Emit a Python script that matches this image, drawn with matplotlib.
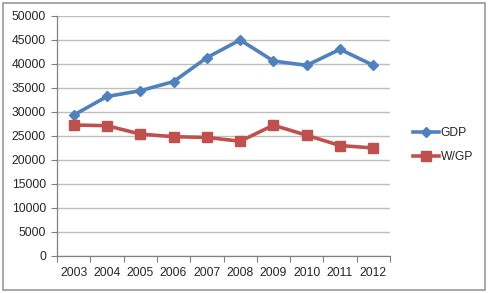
import numpy as np
import matplotlib
matplotlib.use('Agg')
import matplotlib.pyplot as plt
from matplotlib.patches import Rectangle

years = ['2003', '2004', '2005', '2006', '2007', '2008', '2009', '2010', '2011', '2012']
gdp = [29300, 33200, 34400, 36300, 41300, 45000, 40600, 39700, 43050, 39700]
wgp = [27250, 27100, 25350, 24800, 24650, 23850, 27200, 25100, 22950, 22450]

plt.rcParams['font.family'] = ['Liberation Sans', 'DejaVu Sans']

fig = plt.figure(figsize=(4.88, 2.93), dpi=100)
ax = fig.add_axes([57/488, 1 - 255.5/293, (390 - 57)/488, (255.5 - 16)/293])

x = np.arange(len(years))
l1, = ax.plot(x, gdp, color='#4F81BD', lw=2.6, marker='D', ms=5.5, label='GDP')
l2, = ax.plot(x, wgp, color='#C0504D', lw=2.6, marker='s', ms=7, label='W/GP')

ax.set_xlim(-0.5, len(years) - 0.5)
ax.set_ylim(0, 50000)
ax.set_yticks(np.arange(0, 50001, 5000))
ax.set_xticks(np.arange(-0.5, len(years), 1))
ax.set_xticklabels([])
ax.set_xticks(x, minor=True)
ax.set_xticklabels(years, minor=True)
ax.tick_params(axis='x', which='major', length=4, color='#808080', direction='out')
ax.tick_params(axis='x', which='minor', length=0, pad=8, labelsize=8.7, labelcolor='#262626')
ax.tick_params(axis='y', length=4, color='#808080', labelsize=8.7, labelcolor='#262626', pad=4)
ax.grid(axis='y', color='#BEBEBE', lw=1)
ax.set_axisbelow(True)
for s in ['top', 'right']:
    ax.spines[s].set_visible(False)
for s in ['left', 'bottom']:
    ax.spines[s].set_color('#808080')
    ax.spines[s].set_linewidth(0.9)

fig.legend(handles=[l1, l2], loc='center left', bbox_to_anchor=(402/488, 1 - 145/293),
           frameon=False, fontsize=8.7, handlelength=2.2, handletextpad=0.1,
           labelspacing=1.0, labelcolor='#262626')

fig.patches.append(Rectangle((3/488, 3/293), 482/488, 287/293, transform=fig.transFigure,
                             fill=False, edgecolor='#9A9A9A', lw=1.2))

fig.savefig('out.png', dpi=100)
